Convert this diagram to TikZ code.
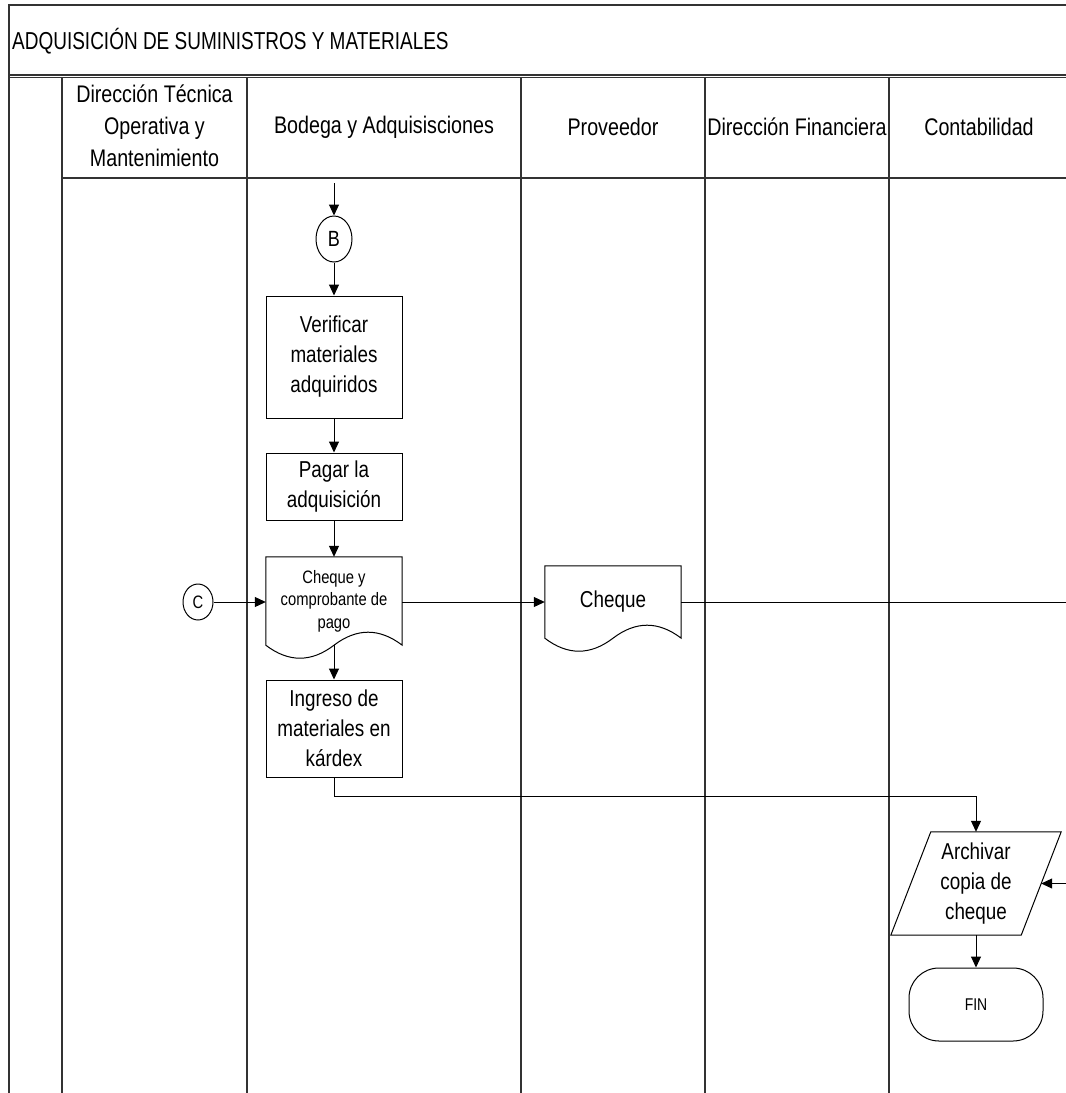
\documentclass[tikz,border=0pt]{standalone}
\usepackage{fontspec}
\setmainfont{Liberation Sans}[FakeStretch=0.82]
\newfontfamily\titlefont{Liberation Sans}[FakeStretch=0.775]
\usetikzlibrary{arrows.meta,shapes.geometric,calc}
\tikzset{
  lane/.style={line width=1.3pt, black!80},
  line/.style={line width=1pt, black},
  box/.style={draw, line width=1pt, minimum width=136pt, inner sep=0pt, align=center, font=\fontsize{23}{30}\selectfont},
  docnode/.style={minimum width=136pt, inner sep=0pt, align=center},
  conn/.style={draw, ellipse, line width=1pt, inner sep=0pt},
  arr/.style={line width=1pt, -{Triangle[length=11pt,width=10pt]}},
  hdr/.style={align=center, font=\fontsize{24}{32}\selectfont, inner sep=0pt},
}
\newcommand\wavedoc[2]{%
  \draw[line] let \p1=(#1.south west), \p2=(#1.south east),
    \n1={(\x2-\x1)/6}, \n2={4*#2/3} in
    (#1.south west) -- (#1.north west) -- (#1.north east) -- (#1.south east)
    .. controls ({\x2-\n1*1pt},{\y2+\n2*1pt}) and ({\x2-2*\n1*1pt},{\y2+\n2*1pt}) .. ({\x2-3*\n1*1pt},{\y2})
    .. controls ({\x2-4*\n1*1pt},{\y2-\n2*1pt}) and ({\x2-5*\n1*1pt},{\y2-\n2*1pt}) .. (\x1,\y1) -- cycle;}
\begin{document}
\begin{tikzpicture}[x=1pt,y=-1pt]
\useasboundingbox (0,0) rectangle (1066,1093);
% frame and lanes
\draw[lane] (9,1093) -- (9,5) -- (1066,5);
\draw[lane] (9,75) -- (1066,75);
\draw[lane] (9,77.5) -- (1066,77.5);
\draw[lane] (62,178) -- (1066,178);
\foreach \xx in {62,247,521,705,889} \draw[lane] (\xx,77.5) -- (\xx,1093);
% title
\node[anchor=base west, inner sep=0pt, font={\titlefont\fontsize{24.5}{28}\selectfont}] (title) at (12,49.5) {ADQUISICIÓN DE SUMINISTROS Y MATERIALES};
% headers
\node[hdr] (h1) at (154.5,126) {Dirección Técnica\\Operativa y\\Mantenimiento};
\node[hdr] (h2) at (384,127) {Bodega y Adquisisciones};
\node[hdr] (h3) at (613,127) {Proveedor};
\node[hdr] (h4) at (797,127) {Dirección Financiera};
\node[hdr] (h5) at (979,127) {Contabilidad};
% flow nodes
\coordinate (startB) at (334,183);
\node[conn, minimum width=36pt, minimum height=46pt, font=\fontsize{22}{26}\selectfont] (B) at (334,239) {B};
\node[box, minimum height=122pt] (ver) at (334,357) {Verificar\\materiales\\adquiridos};
\node[box, minimum height=67pt] (pag) at (334,486.5) {Pagar la\\adquisición};
\node[docnode, minimum height=88pt, font=\fontsize{18}{23}\selectfont] (docA) at (334,601) {\raisebox{4pt}{\begin{tabular}{@{}c@{}}Cheque y\\[-0.6pt]comprobante de\\[-0.6pt]pago\end{tabular}}};
\wavedoc{docA}{13}
\node[conn, minimum width=30pt, minimum height=36pt, font=\fontsize{18}{22}\selectfont] (C) at (198,602) {C};
\node[docnode, minimum height=72pt, font=\fontsize{23}{28}\selectfont] (docB) at (613,602) {\raisebox{3pt}{Cheque}};
\wavedoc{docB}{13}
\node[box, minimum height=97pt] (ing) at (334,728.5) {Ingreso de\\materiales en\\kárdex};
\node[minimum width=130pt, minimum height=103pt, inner sep=0pt, align=center, font=\fontsize{23}{30}\selectfont] (arch) at (976,883.5) {Archivar\\copia de\\cheque};
\draw[line] ($(arch.north west)+(20,0)$) -- ($(arch.north east)+(20,0)$) -- ($(arch.south east)+(-20,0)$) -- ($(arch.south west)+(-20,0)$) -- cycle;
\node[draw, line width=1pt, rounded corners=30pt, minimum width=134pt, minimum height=73pt, font=\fontsize{17}{20}\selectfont] (fin) at (976,1004.5) {FIN};
% connectors
\draw[arr] (startB) -- (B.north);
\draw[arr] (B.south) -- (ver.north);
\draw[arr] (ver.south) -- (pag.north);
\draw[arr] (pag.south) -- (docA.north);
\draw[arr] (docA.south) -- (ing.north);
\draw[arr] (C.east) -- (C.east -| docA.west);
\draw[arr] (C.east -| docA.east) -- (C.east -| docB.west);
\coordinate (offA) at (1066,602);
\draw[line] (docB.east) -- (offA);
\coordinate (turn) at (976,796);
\draw[arr] (ing.south) |- (turn) -- (arch.north);
\coordinate (offR) at (1066,883.5);
\draw[arr] (offR) -- (arch.east);
\draw[arr] (arch.south) -- (fin.north);
\end{tikzpicture}
\end{document}
